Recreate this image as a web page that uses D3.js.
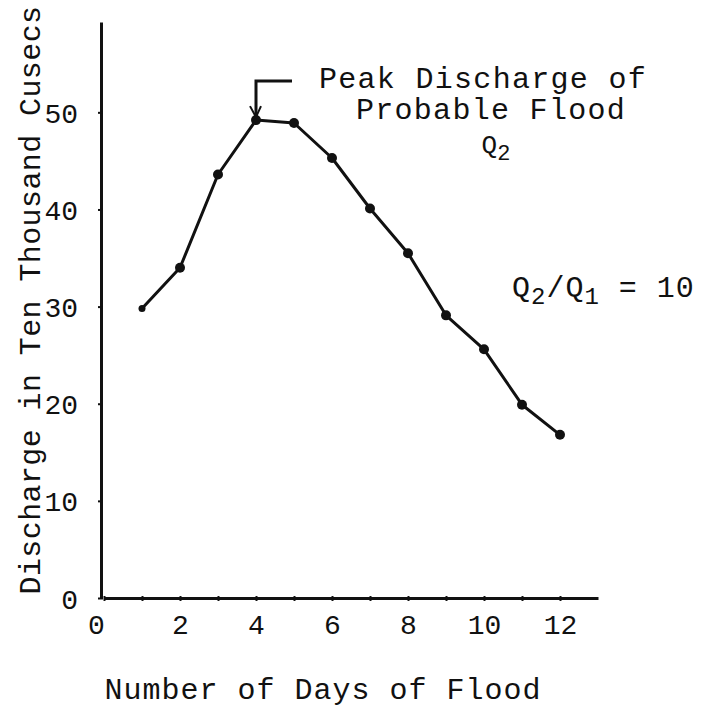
<!doctype html>
<html lang="en">
	<head>
		<meta charset="utf-8">
		<title>Flood Hydrograph</title>
		<script src="https://d3js.org/d3.v7.min.js"></script>
		<style>
			body { margin: 0; background: #fff; }
			text { font-family: 'Liberation Mono', 'Courier New', monospace; fill: #111; }
			.axis path, .axis line { stroke: #111; }
		</style>
	</head>
	<body>
		<div id="chart"></div>
		<script>
			// days of flood and discharge (ten thousand cusecs)
			let days = [1, 2, 3, 4, 5, 6, 7, 8, 9, 10, 11, 12]
			let discharge = [29.8, 34, 43.6, 49.2, 48.9, 45.3, 40.1, 35.5, 29.1, 25.6, 19.9, 16.8]
			let xTicks = [0, 1, 2, 3, 4, 5, 6, 7, 8, 9, 10, 11, 12]
			let yTicks = [0, 10, 20, 30, 40, 50]
			let peakDay = 4
			let labels = {
				x: 'Number of Days of Flood',
				y: 'Discharge in Ten Thousand Cusecs',
				peak: ['Peak Discharge of', 'Probable Flood'],
			}

			let width = 708
			let height = 711

			let svg = d3.select('#chart')
				.append('svg')
				.attr('width', width)
				.attr('height', height)

			let x = d3.scaleLinear().domain([0, 13]).range([104, 598])
			let y = d3.scaleLinear().domain([0, 59.3]).range([598, 22])

			let xAxis = svg.append('g')
				.attr('class', 'axis')
				.attr('transform', `translate(0,${y(0)})`)
				.call(d3.axisBottom(x)
					.tickValues(xTicks)
					.tickSize(3)
					.tickSizeOuter(0)
					.tickPadding(13)
					.tickFormat(d => d % 2 == 0 ? d : ''))
			xAxis.select('.domain').attr('stroke-width', 3)
			xAxis.selectAll('.tick line').attr('stroke-width', 2).attr('y1', -2)
			xAxis.selectAll('.tick text')
				.style('font-size', '28px')
				.attr('dx', d => d == 0 ? -8 : 0)

			let yAxis = svg.append('g')
				.attr('class', 'axis')
				.attr('transform', `translate(${x(0) - 3},0)`)
				.call(d3.axisLeft(y)
					.tickValues(yTicks)
					.tickSize(3)
					.tickSizeOuter(0)
					.tickPadding(20))
			yAxis.select('.domain').attr('stroke-width', 3)
			yAxis.selectAll('.tick line').attr('stroke-width', 2).attr('x1', 2)
			yAxis.selectAll('.tick text')
				.style('font-size', '28px')
				.attr('dy', '0.36em')

			let points = days.map((d, i) => ({day: d, q: discharge[i]}))

			svg.append('path')
				.datum(points)
				.attr('fill', 'none')
				.attr('stroke', '#111')
				.attr('stroke-width', 3)
				.attr('stroke-linejoin', 'round')
				.attr('d', d3.line().x(d => x(d.day)).y(d => y(d.q)))

			svg.append('g')
				.selectAll('circle')
				.data(points)
				.enter().append('circle')
					.attr('cx', d => x(d.day))
					.attr('cy', d => y(d.q))
					.attr('r', d => d.day == 1 ? 3.5 : 5)
					.attr('fill', '#111')

			// peak arrow
			let peak = points.find(p => p.day == peakDay)
			let px = x(peak.day)
			let py = y(peak.q)
			svg.append('path')
				.attr('fill', 'none')
				.attr('stroke', '#111')
				.attr('stroke-width', 3)
				.attr('d', `M${px + 36},${py - 39} L${px},${py - 39} L${px},${py - 4}`)
			svg.append('path')
				.attr('fill', 'none')
				.attr('stroke', '#111')
				.attr('stroke-width', 2)
				.attr('d', `M${px - 6},${py - 14} L${px},${py - 3} L${px + 5},${py - 14}`)

			svg.append('text')
				.attr('x', 483)
				.attr('y', 88)
				.attr('text-anchor', 'middle')
				.style('font-size', '30px')
				.style('letter-spacing', '1.3px')
				.text(labels.peak[0])
			svg.append('text')
				.attr('x', 491)
				.attr('y', 119)
				.attr('text-anchor', 'middle')
				.style('font-size', '30px')
				.style('letter-spacing', '1.3px')
				.text(labels.peak[1])

			let q2 = svg.append('text')
				.attr('x', 496)
				.attr('y', 153)
				.attr('text-anchor', 'middle')
				.style('font-size', '26px')
			q2.append('tspan').text('Q')
			q2.append('tspan').attr('dy', 7).style('font-size', '22px').text('2')

			let ratio = svg.append('text')
				.attr('x', 512)
				.attr('y', 297)
				.style('font-size', '30px')
				.style('letter-spacing', '1px')
			ratio.append('tspan').text('Q')
			ratio.append('tspan').attr('dy', 7).style('font-size', '24px').text('2')
			ratio.append('tspan').attr('dy', -7).text('/Q')
			ratio.append('tspan').attr('dy', 7).style('font-size', '24px').text('1')
			ratio.append('tspan').attr('dy', -7).text(' = 10')

			svg.append('text')
				.attr('x', 323)
				.attr('y', 699)
				.attr('text-anchor', 'middle')
				.style('font-size', '30px')
				.style('letter-spacing', '1px')
				.text(labels.x)

			svg.append('text')
				.attr('transform', 'translate(40,300) rotate(-90)')
				.attr('text-anchor', 'middle')
				.style('font-size', '30px')
				.style('letter-spacing', '0.4px')
				.text(labels.y)
		</script>
	</body>
</html>
